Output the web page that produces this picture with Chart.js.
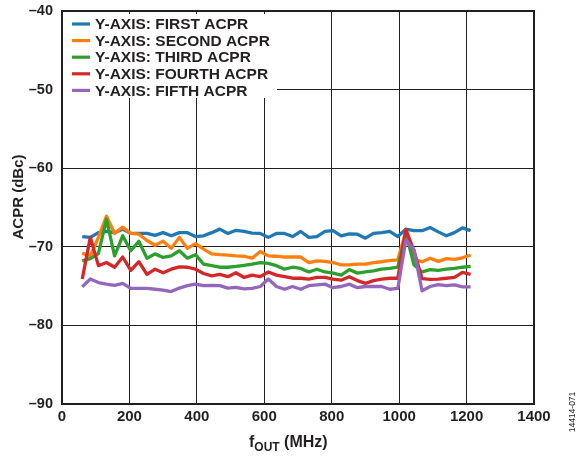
<!DOCTYPE html>
<html>
<head>
<meta charset="utf-8">
<script src="https://cdn.jsdelivr.net/npm/chart.js@4"></script>
<style>
  html, body { margin: 0; padding: 0; background: #fff; }
  #wrap { width: 582px; height: 461px; position: relative; }
</style>
</head>
<body>
<div id="wrap"><canvas id="acprChart" width="582" height="461"></canvas></div>
<script>
// output frequency, MHz
const freqs = [60, 84, 108, 132, 156, 180, 204, 228, 252, 276, 300, 324, 348, 372, 396, 420, 444,
    468, 492, 516, 540, 564, 588, 612, 636, 660, 684, 708, 732, 756, 780, 804, 828, 852, 876,
    900, 924, 948, 972, 996, 1020, 1044, 1068, 1092, 1116, 1140, 1164, 1188, 1212];

// ACPR, dBc
const firstAcpr = [-68.7, -68.8, -68.2, -68.05, -68.2, -67.75, -68.3, -68.3, -68.3, -68.55, -68.2,
    -68.6, -68.2, -68.2, -68.7, -68.6, -68.2, -67.75, -68.3, -67.9, -68.05, -68.25, -68.3, -68.8,
    -68.3, -68.3, -68.7, -68.05, -68.8, -68.7, -68.05, -67.95, -68.6, -68.35, -68.4, -68.9, -68.3,
    -68.2, -68.05, -68.7, -67.75, -67.95, -67.95, -67.55, -68.1, -68.6, -68.2, -67.6, -67.95];
const secondAcpr = [-70.8, -71.2, -68.8, -66.1, -68.3, -67.5, -68.3, -68.4, -69.2, -69.8, -69.3,
    -70.2, -68.8, -70.2, -69.6, -70.3, -70.9, -71.0, -71.05, -71.15, -71.2, -71.45, -70.6, -71.15,
    -71.2, -71.3, -71.3, -71.3, -72.0, -71.8, -71.85, -72.0, -72.3, -72.3, -72.2, -72.2, -72.0,
    -71.9, -71.75, -71.65, -68.0, -71.6, -71.9, -71.45, -71.85, -71.5, -71.6, -71.4, -71.05];
const thirdAcpr = [-71.8, -71.5, -70.85, -66.5, -71.15, -68.6, -70.5, -69.3, -71.45, -70.9, -71.35,
    -71.15, -70.5, -71.45, -71.0, -72.2, -72.4, -72.6, -72.6, -72.5, -72.35, -72.2, -72.0, -72.1,
    -72.4, -72.85, -72.6, -72.75, -73.2, -72.85, -73.2, -73.35, -73.6, -72.9, -73.35, -73.2, -73.05,
    -72.85, -72.75, -72.6, -68.3, -72.3, -73.2, -72.9, -73.0, -72.85, -72.75, -72.6, -72.5];
const fourthAcpr = [-74.1, -68.8, -72.4, -72.0, -72.6, -71.3, -73.0, -71.9, -73.5, -72.85, -73.3,
    -72.85, -72.55, -72.6, -72.85, -73.4, -73.7, -73.5, -73.8, -73.3, -73.9, -73.6, -73.8, -73.2,
    -73.6, -73.8, -74.0, -74.0, -74.1, -73.9, -73.9, -74.1, -74.25, -73.8, -74.3, -74.65, -74.3,
    -74.1, -74.0, -74.0, -67.8, -70.5, -74.05, -74.15, -74.1, -74.0, -73.9, -73.25, -73.5];
const fifthAcpr = [-75.1, -74.1, -74.55, -74.75, -74.9, -74.65, -75.3, -75.3, -75.3, -75.4, -75.5,
    -75.7, -75.25, -74.95, -74.75, -74.95, -74.9, -74.95, -75.25, -75.15, -75.35, -75.3, -75.05, -74.1,
    -75.05, -75.4, -75.05, -75.4, -74.95, -74.85, -74.75, -75.2, -75.05, -74.75, -75.2, -75.05, -75.05,
    -75.05, -75.4, -75.3, -69.1, -70.4, -75.6, -75.05, -74.8, -74.95, -74.85, -75.1, -75.1];

const seriesLabels = ["Y-AXIS: FIRST ACPR", "Y-AXIS: SECOND ACPR", "Y-AXIS: THIRD ACPR",
    "Y-AXIS: FOURTH ACPR", "Y-AXIS: FIFTH ACPR"];
const seriesColors = ["#1f77b4", "#ff7f0e", "#2ca02c", "#d62728", "#9467bd"];
const seriesValues = [firstAcpr, secondAcpr, thirdAcpr, fourthAcpr, fifthAcpr];

const FONT = "Arial, 'Liberation Sans', sans-serif";

const toPoints = vals => vals.map((v, i) => ({ x: freqs[i], y: v }));
const dashNum = v => (v < 0 ? "\u2013" + Math.abs(v) : String(v));

// white legend box inside the plot, drawn over the grid
const boxLegend = {
    id: "boxLegend",
    afterDatasetsDraw(chart) {
        const { ctx, chartArea } = chart;
        ctx.save();
        ctx.fillStyle = "#fff";
        ctx.fillRect(chartArea.left, chartArea.top + 3, 215, 84);
        ctx.font = "bold 15.5px " + FONT;
        ctx.textBaseline = "middle";
        chart.data.datasets.forEach((ds, i) => {
            const y = chartArea.top + 13 + i * 16.6;
            ctx.strokeStyle = ds.borderColor;
            ctx.lineWidth = 3.2;
            ctx.beginPath();
            ctx.moveTo(chartArea.left + 10, y);
            ctx.lineTo(chartArea.left + 28, y);
            ctx.stroke();
            ctx.fillStyle = "#231f20";
            ctx.fillText(ds.label, chartArea.left + 33, y + 1);
        });
        ctx.restore();
    },
    afterDraw(chart) {
        const { ctx, chartArea } = chart;
        ctx.save();
        // frame
        ctx.strokeStyle = "#231f20";
        ctx.lineWidth = 2;
        ctx.strokeRect(chartArea.left, chartArea.top, chartArea.right - chartArea.left,
            chartArea.bottom - chartArea.top);

        ctx.fillStyle = "#231f20";
        // y title
        ctx.save();
        ctx.translate(19, 197);
        ctx.rotate(-Math.PI / 2);
        ctx.font = "bold 15px " + FONT;
        ctx.textAlign = "center";
        ctx.textBaseline = "middle";
        ctx.fillText("ACPR (dBc)", 0, 0);
        ctx.restore();

        // x title with subscript
        ctx.textBaseline = "alphabetic";
        ctx.textAlign = "left";
        const big = "bold 16px " + FONT, small = "bold 12px " + FONT;
        let x = 249;
        const base = 447;
        ctx.font = big; ctx.fillText("f", x, base); x += ctx.measureText("f").width;
        ctx.font = small; ctx.fillText("OUT", x, base + 4); x += ctx.measureText("OUT").width;
        ctx.font = big; ctx.fillText(" (MHz)", x, base);

        // figure code
        ctx.save();
        ctx.translate(573, 412);
        ctx.rotate(-Math.PI / 2);
        ctx.font = "8.5px " + FONT;
        ctx.textAlign = "center";
        ctx.textBaseline = "middle";
        ctx.fillText("14414-071", 0, 0);
        ctx.restore();
        ctx.restore();
    }
};

new Chart(document.getElementById("acprChart"), {
    type: "line",
    data: {
        datasets: seriesValues.map((vals, i) => ({
            label: seriesLabels[i],
            data: toPoints(vals),
            borderColor: seriesColors[i],
            backgroundColor: seriesColors[i],
            borderWidth: 3.3,
            borderJoinStyle: "round",
            pointRadius: 0,
            tension: 0,
            fill: false,
            order: 5 - i
        }))
    },
    options: {
        responsive: false,
        animation: false,
        events: [],
        layout: { padding: { left: 0, top: 11, right: 48, bottom: 0 } },
        plugins: { legend: { display: false }, tooltip: { enabled: false } },
        scales: {
            x: {
                type: "linear",
                min: 0, max: 1400,
                afterFit: s => { s.height = 57; s.paddingLeft = 0; s.paddingRight = 0; },
                ticks: {
                    stepSize: 200,
                    color: "#231f20",
                    font: { family: FONT, size: 15, weight: "bold" },
                    padding: 4,
                    maxRotation: 0,
                    callback: v => dashNum(v)
                },
                grid: { color: "#231f20", lineWidth: 1, drawTicks: false },
                border: { display: false }
            },
            y: {
                min: -90, max: -40,
                afterFit: s => { s.width = 62; s.paddingTop = 0; s.paddingBottom = 0; },
                ticks: {
                    stepSize: 10,
                    color: "#231f20",
                    font: { family: FONT, size: 14.5, weight: "bold" },
                    padding: 9,
                    callback: v => dashNum(v)
                },
                grid: { color: "#231f20", lineWidth: 1, drawTicks: false },
                border: { display: false }
            }
        }
    },
    plugins: [boxLegend]
});
</script>
</body>
</html>
